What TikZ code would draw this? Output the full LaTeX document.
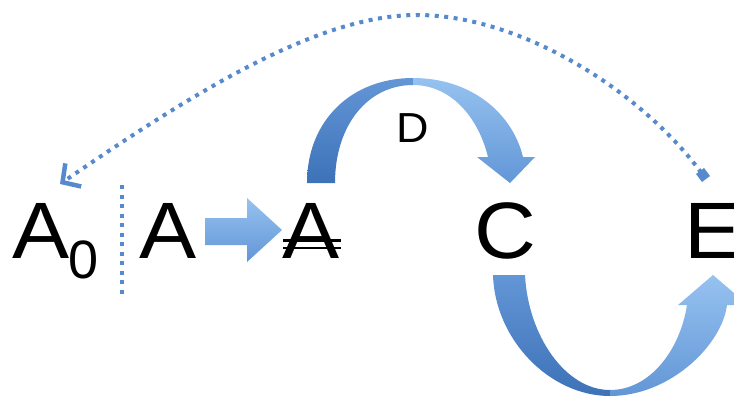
\documentclass[tikz,border=0pt]{standalone}
\usepackage{fontspec}
\setmainfont{Liberation Sans}
\usetikzlibrary{arrows.meta}
\definecolor{dotblue}{RGB}{86,138,205}
\definecolor{bluedark}{RGB}{62,114,184}
\definecolor{bluemid}{RGB}{98,150,214}
\definecolor{bluelight}{RGB}{150,194,240}
\tikzset{
  letter/.style={inner sep=0pt, anchor=base, font=\fontsize{80}{80}\selectfont, xscale=1.07, transform shape},
  smallletter/.style={inner sep=0pt, anchor=base, font=\fontsize{42}{42}\selectfont, xscale=1.07, transform shape},
  subletter/.style={inner sep=0pt, anchor=base, font=\fontsize{54}{54}\selectfont, xscale=1.0, transform shape},
  dotline/.style={draw=dotblue, line width=4pt, dash pattern=on 4pt off 5.5pt},
  strike/.style={line width=2.6pt},
}
\begin{document}
\begin{tikzpicture}[x=1pt,y=-1pt]
\useasboundingbox (0,0) rectangle (734,400);

% letters
\node[letter] (a0) at (41.5,258) {A};
\node[subletter] (sub) at (84,278) {0};
\node[letter] (a) at (168.5,258) {A};
\node[letter] (abar) at (311.5,258) {A};
\node[letter] (c) at (505,258) {C};
\node[letter, anchor=base west] (e) at (684,258) {E};
\node[smallletter] (d) at (413,142) {D};

% double stroke through the third A
\draw[strike] (283,240.5) -- (341,240.5);
\draw[strike] (283,248) -- (341,248);

% dotted separator
\coordinate (sepTop) at (122,185);
\coordinate (sepBot) at (122,298);
\draw[dotline] (sepTop) -- (sepBot);

% dotted return arrow from E back to A0
\coordinate (retStart) at (706,179);
\coordinate (retEnd) at (60,184);
\draw[dotline, {Square[length=10pt,width=10pt]}-{Straight Barb[length=13pt,width=28pt,line width=4.5pt]}]
  (retStart) .. controls (640,90) and (520,15) .. (417,15)
             .. controls (320,15) and (200,88) .. (retEnd);

% small block arrow A -> struck A
\shade[top color=bluelight, bottom color=bluemid]
  (205,218) -- (247,218) -- (247,198) -- (282,230) -- (247,262) -- (247,245) -- (205,245) -- cycle;

% upper curved arrow (struck A over D to C)
\shade[bottom color=bluedark, top color=bluemid]
  (307,183) .. controls (307,120) and (352,78) .. (413,78)
  -- (413,85) .. controls (368,85) and (335,125) .. (335,183) -- cycle;
\shade[top color=bluelight, bottom color=bluemid]
  (413,78) .. controls (470,78) and (512,112) .. (523,157)
  -- (535,157) -- (510,183) -- (477,157) -- (488,157)
  .. controls (478,116) and (450,85) .. (413,85) -- cycle;

% lower curved arrow (C under to E)
\shade[top color=bluemid, bottom color=bluedark]
  (493,275) .. controls (495,340) and (550,396) .. (610,396)
  -- (610,390) .. controls (565,390) and (528,335) .. (525,275) -- cycle;
\shade[top color=bluelight, bottom color=bluemid]
  (610,396) .. controls (670,396) and (722,345) .. (727,305)
  -- (748,305) -- (713,275) -- (678,305) -- (687,305)
  .. controls (680,350) and (650,390) .. (610,390) -- cycle;
\end{tikzpicture}
\end{document}
